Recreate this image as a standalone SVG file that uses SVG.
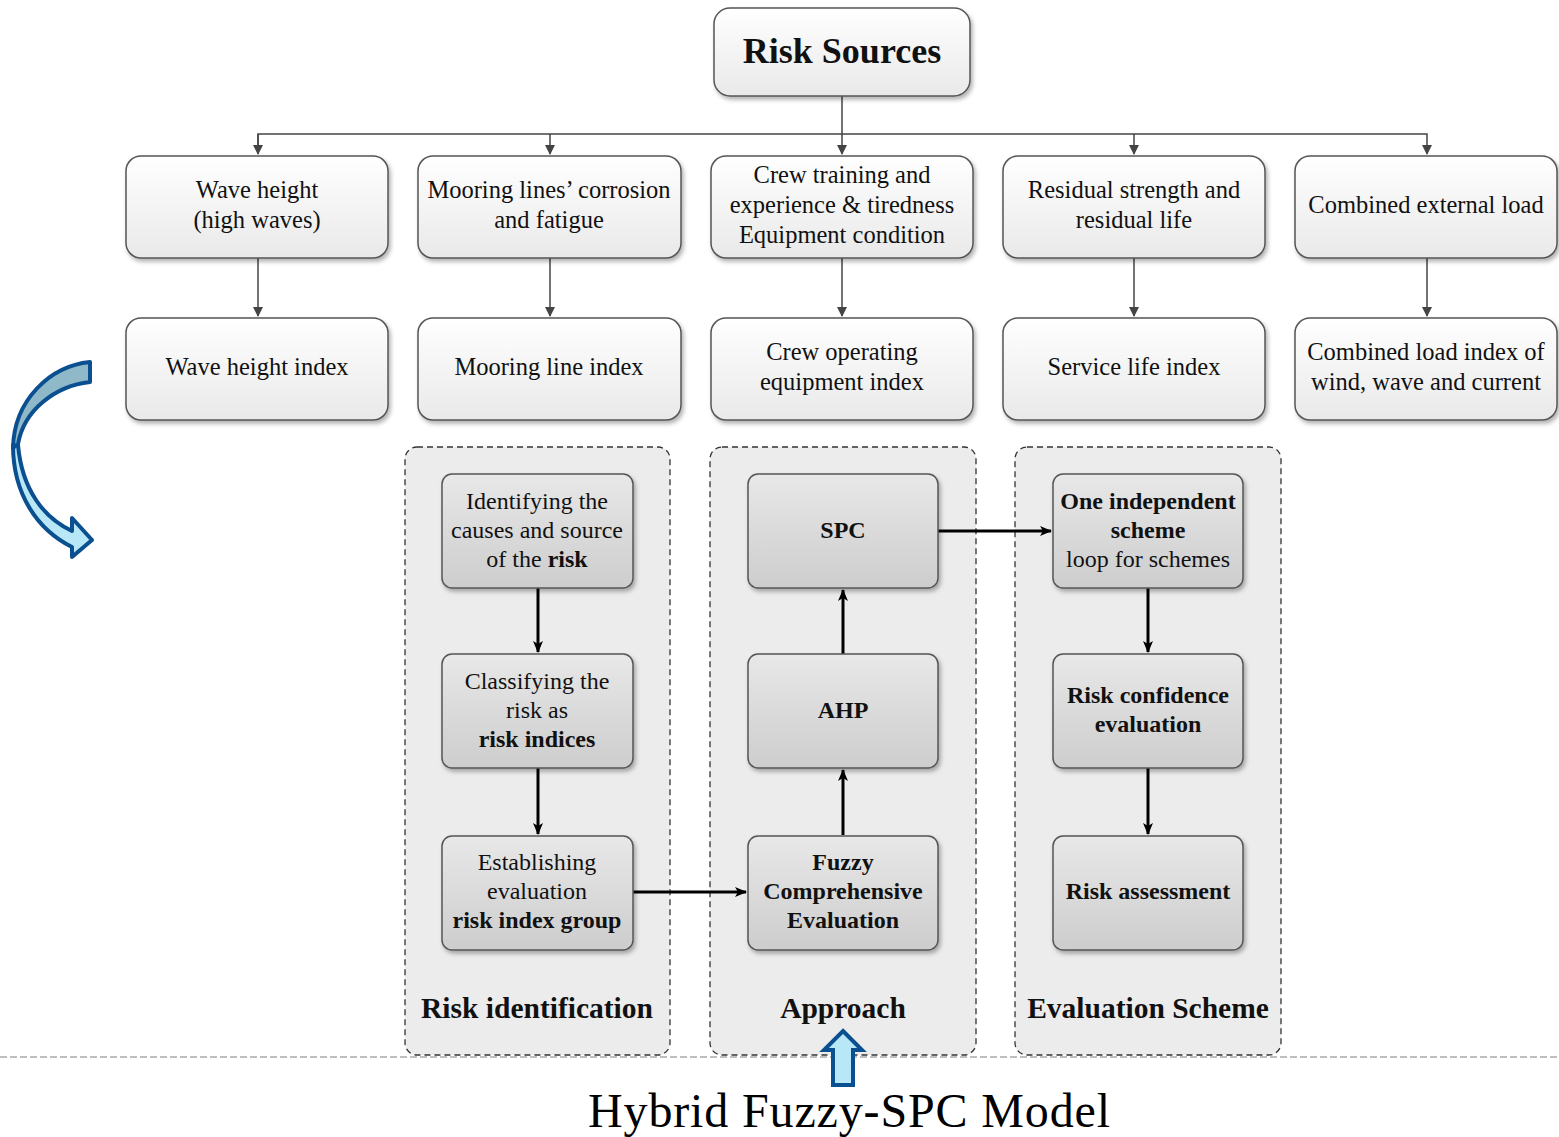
<svg xmlns="http://www.w3.org/2000/svg" width="1559" height="1137" viewBox="0 0 1559 1137">
<defs>
<linearGradient id="gTop" x1="0" y1="0" x2="0" y2="1"><stop offset="0" stop-color="#ffffff"/><stop offset="1" stop-color="#e9e9e9"/></linearGradient>
<linearGradient id="gIn" x1="0" y1="0" x2="0" y2="1"><stop offset="0" stop-color="#e8e8e8"/><stop offset="1" stop-color="#cdcdcd"/></linearGradient>
<filter id="sh" x="-10%" y="-10%" width="125%" height="130%"><feDropShadow dx="2" dy="3" stdDeviation="2" flood-color="#000" flood-opacity="0.3"/></filter>
<marker id="ah" markerWidth="10" markerHeight="10" refX="9" refY="5" orient="auto" markerUnits="userSpaceOnUse" viewBox="0 0 10 10"><path d="M0,0 L10,5 L0,10 Z" fill="#444"/></marker>
<marker id="ab" markerWidth="12" markerHeight="12" refX="11" refY="6" orient="auto" markerUnits="userSpaceOnUse" viewBox="0 0 12 12"><path d="M0,1 L12,6 L0,11 L3,6 Z" fill="#000"/></marker>
</defs>
<style>
.t{font-family:"Liberation Serif","Times New Roman",serif;font-size:24.5px;fill:#111;text-anchor:middle}
.i{font-size:24px}
.b{font-weight:bold}
.top{fill:url(#gTop);stroke:#555;stroke-width:1.5;filter:url(#sh)}
.inn{fill:url(#gIn);stroke:#555;stroke-width:1.5;filter:url(#sh)}
.pan{fill:#ececec;stroke:#333;stroke-width:1.3;stroke-dasharray:6 4}
.c{stroke:#444;stroke-width:1.5;fill:none}
.k{stroke:#000;stroke-width:3;fill:none}
.lab{font-family:"Liberation Serif","Times New Roman",serif;font-size:29.5px;font-weight:bold;fill:#111;text-anchor:middle}
.ar{stroke:#0a4f8f;stroke-width:4;stroke-linejoin:round}
</style>
<rect width="1559" height="1137" fill="#fff"/>

<g id="panels">
<rect class="pan" x="405" y="447" width="265" height="608" rx="12"/>
<rect class="pan" x="710" y="447" width="266" height="608" rx="12"/>
<rect class="pan" x="1015" y="447" width="266" height="608" rx="12"/>
</g>
<line x1="0" y1="1057" x2="1559" y2="1057" stroke="#aaa" stroke-width="1.5" stroke-dasharray="7 3"/>

<g id="connectors">
<line class="c" x1="842" y1="96" x2="842" y2="154" marker-end="url(#ah)"/>
<polyline class="c" points="258,154 258,134 1427,134 1427,154" marker-end="url(#ah)"/>
<line class="c" x1="258" y1="134" x2="258" y2="154" marker-end="url(#ah)"/>
<line class="c" x1="550" y1="134" x2="550" y2="154" marker-end="url(#ah)"/>
<line class="c" x1="1134" y1="134" x2="1134" y2="154" marker-end="url(#ah)"/>
<line class="c" x1="258" y1="258" x2="258" y2="316" marker-end="url(#ah)"/>
<line class="c" x1="550" y1="258" x2="550" y2="316" marker-end="url(#ah)"/>
<line class="c" x1="842" y1="258" x2="842" y2="316" marker-end="url(#ah)"/>
<line class="c" x1="1134" y1="258" x2="1134" y2="316" marker-end="url(#ah)"/>
<line class="c" x1="1427" y1="258" x2="1427" y2="316" marker-end="url(#ah)"/>
<line class="k" x1="538" y1="588" x2="538" y2="652" marker-end="url(#ab)"/>
<line class="k" x1="538" y1="768" x2="538" y2="834" marker-end="url(#ab)"/>
<line class="k" x1="633" y1="892" x2="746" y2="892" marker-end="url(#ab)"/>
<line class="k" x1="843" y1="835" x2="843" y2="770" marker-end="url(#ab)"/>
<line class="k" x1="843" y1="654" x2="843" y2="590" marker-end="url(#ab)"/>
<line class="k" x1="938" y1="531" x2="1051" y2="531" marker-end="url(#ab)"/>
<line class="k" x1="1148" y1="588" x2="1148" y2="652" marker-end="url(#ab)"/>
<line class="k" x1="1148" y1="768" x2="1148" y2="834" marker-end="url(#ab)"/>
</g>

<g id="risk-sources"><rect class="top" x="714" y="8" width="256" height="88" rx="16"/><text class="t b" x="842" y="63" style="font-size:36px">Risk Sources</text></g>

<g id="n1"><rect class="top" x="126" y="156" width="262" height="102" rx="15"/><text class="t" x="257" y="198">Wave height</text><text class="t" x="257" y="228">(high waves)</text></g>
<g id="n2"><rect class="top" x="418" y="156" width="263" height="102" rx="15"/><text class="t" x="549" y="198">Mooring lines’ corrosion</text><text class="t" x="549" y="228">and fatigue</text></g>
<g id="n3"><rect class="top" x="711" y="156" width="262" height="102" rx="15"/><text class="t" x="842" y="183">Crew training and</text><text class="t" x="842" y="213">experience &amp; tiredness</text><text class="t" x="842" y="243">Equipment condition</text></g>
<g id="n4"><rect class="top" x="1003" y="156" width="262" height="102" rx="15"/><text class="t" x="1134" y="198">Residual strength and</text><text class="t" x="1134" y="228">residual life</text></g>
<g id="n5"><rect class="top" x="1295" y="156" width="262" height="102" rx="15"/><text class="t" x="1426" y="213">Combined external load</text></g>

<g id="m1"><rect class="top" x="126" y="318" width="262" height="102" rx="15"/><text class="t" x="257" y="375">Wave height index</text></g>
<g id="m2"><rect class="top" x="418" y="318" width="263" height="102" rx="15"/><text class="t" x="549" y="375">Mooring line index</text></g>
<g id="m3"><rect class="top" x="711" y="318" width="262" height="102" rx="15"/><text class="t" x="842" y="360">Crew operating</text><text class="t" x="842" y="390">equipment index</text></g>
<g id="m4"><rect class="top" x="1003" y="318" width="262" height="102" rx="15"/><text class="t" x="1134" y="375">Service life index</text></g>
<g id="m5"><rect class="top" x="1295" y="318" width="262" height="102" rx="15"/><text class="t" x="1426" y="360">Combined load index of</text><text class="t" x="1426" y="390">wind, wave and current</text></g>

<g id="ri1"><rect class="inn" x="442" y="474" width="191" height="114" rx="10"/><text class="t i" x="537" y="509">Identifying the</text><text class="t i" x="537" y="538">causes and source</text><text class="t i" x="537" y="567">of the <tspan class="b">risk</tspan></text></g>
<g id="ri2"><rect class="inn" x="442" y="654" width="191" height="114" rx="10"/><text class="t i" x="537" y="689">Classifying the</text><text class="t i" x="537" y="718">risk as</text><text class="t i b" x="537" y="747">risk indices</text></g>
<g id="ri3"><rect class="inn" x="442" y="836" width="191" height="114" rx="10"/><text class="t i" x="537" y="870">Establishing</text><text class="t i" x="537" y="899">evaluation</text><text class="t i b" x="537" y="928">risk index group</text></g>

<g id="ap1"><rect class="inn" x="748" y="474" width="190" height="114" rx="10"/><text class="t i b" x="843" y="538">SPC</text></g>
<g id="ap2"><rect class="inn" x="748" y="654" width="190" height="114" rx="10"/><text class="t i b" x="843" y="718">AHP</text></g>
<g id="ap3"><rect class="inn" x="748" y="836" width="190" height="114" rx="10"/><text class="t i b" x="843" y="870">Fuzzy</text><text class="t i b" x="843" y="899">Comprehensive</text><text class="t i b" x="843" y="928">Evaluation</text></g>

<g id="ev1"><rect class="inn" x="1053" y="474" width="190" height="114" rx="10"/><text class="t i b" x="1148" y="509">One independent</text><text class="t i b" x="1148" y="538">scheme</text><text class="t i" x="1148" y="567">loop for schemes</text></g>
<g id="ev2"><rect class="inn" x="1053" y="654" width="190" height="114" rx="10"/><text class="t i b" x="1148" y="703">Risk confidence</text><text class="t i b" x="1148" y="732">evaluation</text></g>
<g id="ev3"><rect class="inn" x="1053" y="836" width="190" height="114" rx="10"/><text class="t i b" x="1148" y="899">Risk assessment</text></g>

<g id="labels">
<text class="lab" x="537" y="1018">Risk identification</text>
<text class="lab" x="843" y="1018">Approach</text>
<text class="lab" x="1148" y="1018">Evaluation Scheme</text>
</g>

<g id="curved-arrow">
<path class="ar" d="M13,445 C13,495 38,530 72,547 L72,557 L92,540 L72,518 L72,531 C44,518 22,490 18,445 Z" fill="#b8e8f8"/>
<path class="ar" d="M90,362 C50,366 14,400 13,448 L18,444 C24,410 55,386 90,382 Z" fill="#8fb8c8"/>
</g>

<g id="up-arrow">
<path d="M843,1031 L862,1050 L853,1050 L853,1085 L833,1085 L833,1050 L824,1050 Z" fill="#b8e8f8" stroke="#0a4f8f" stroke-width="4" stroke-linejoin="miter"/>
</g>

<text x="849" y="1127" font-family="'Liberation Serif','Times New Roman',serif" font-size="48" text-anchor="middle" fill="#000" textLength="522">Hybrid Fuzzy-SPC Model</text>
</svg>
